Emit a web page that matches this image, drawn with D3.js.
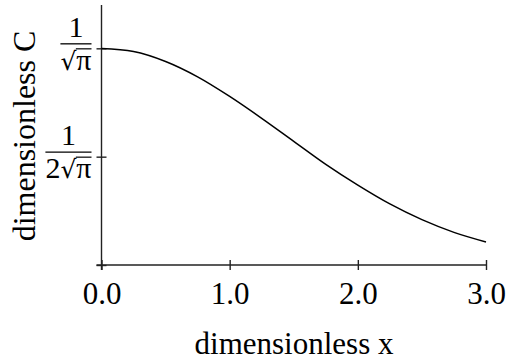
<!DOCTYPE html>
<html>
<head>
<meta charset="utf-8">
<script src="https://cdn.jsdelivr.net/npm/d3@7"></script>
<style>
  body { margin: 0; background: #fff; }
  svg { display: block; }
  text { font-family: "Liberation Serif", "Times New Roman", serif; fill: #000; }
</style>
</head>
<body>
<script>
// curve, C at x = 0, 0.25, ... 3
const xValues = [0, 0.25, 0.5, 0.75, 1, 1.25, 1.5, 1.75, 2, 2.25, 2.5, 2.75, 3];
const cValues = [0.564, 0.556, 0.530, 0.490, 0.439, 0.382, 0.322, 0.262, 0.208, 0.159, 0.118, 0.085, 0.060];

const xTicks = [0, 1, 2, 3];
const xTickLabels = ["0.0", "1.0", "2.0", "3.0"];
const rootPi = Math.sqrt(Math.PI);
const yTicks = [0, 1 / (2 * rootPi), 1 / rootPi];
const yTickNum = ["", "1", "1"];
const yTickPre = ["", "2", ""];   // text in front of the radical in the denominator
const yMax = 1.2 / rootPi;

const width = 509, height = 360;
const fontSize = 31;

let svg = d3.select("body")
    .append("svg")
        .attr("width", width)
        .attr("height", height);

let xScale = d3.scaleLinear()
    .domain([0, 3])
    .range([101.5, 486]);

let yScale = d3.scaleLinear()
    .domain([0, yMax])
    .range([265, 5]);

// y axis, ticks sticking out both sides
let yAxis = d3.axisLeft(yScale)
    .tickValues(yTicks)
    .tickSizeInner(5)
    .tickSizeOuter(0)
    .tickFormat("");

let gy = svg.append("g")
    .attr("class", "yAxis")
    .attr("transform", `translate(${xScale(0)}, 0)`)
    .call(yAxis);
gy.select(".domain").attr("d", `M0,${yScale(yMax)}V${yScale(0) + 5}`);
gy.selectAll(".tick line").attr("x1", 5);

let xAxis = d3.axisBottom(xScale)
    .tickValues(xTicks)
    .tickSizeInner(5)
    .tickSizeOuter(0)
    .tickFormat((d, i) => xTickLabels[i]);

let gx = svg.append("g")
    .attr("class", "xAxis")
    .attr("transform", `translate(0, ${yScale(0)})`)
    .call(xAxis);
gx.select(".domain").attr("d", `M${xScale(0) - 5},0H${xScale(3)}`);
gx.selectAll(".tick line").attr("y1", -5);
gx.selectAll(".tick text")
    .attr("y", 39)
    .attr("dy", 0)
    .style("font-size", fontSize + "px")
    .style("font-family", '"Liberation Serif", serif');

svg.selectAll(".domain, .tick line")
    .attr("stroke", "#222")
    .attr("stroke-width", 1.4);

// y tick labels as stacked fractions
gy.selectAll(".tick").each(function(d, i) {
    if (!yTickNum[i]) return;
    let g = d3.select(this).append("g")
        .attr("transform", "translate(-10, -5)");
    let den = g.append("text")
        .attr("text-anchor", "end")
        .attr("y", 26)
        .style("font-size", "30px");
    den.append("tspan").text(yTickPre[i]);
    den.append("tspan")
        .style("font-family", '"DejaVu Serif", serif')
        .style("font-size", "25px")
        .text("\u221A");
    den.append("tspan").text("\u03C0");
    let w = den.node().getComputedTextLength();
    let n = yTickPre[i].length;
    let piBox = den.node().getExtentOfChar(n + 1);
    g.append("line")
        .attr("x1", -w).attr("x2", 0)
        .attr("y1", 0).attr("y2", 0)
        .attr("stroke", "#000").attr("stroke-width", 1.3);
    // vinculum over pi
    g.append("line")
        .attr("x1", piBox.x - 0.5).attr("x2", piBox.x + piBox.width)
        .attr("y1", 5).attr("y2", 5)
        .attr("stroke", "#000").attr("stroke-width", 1.2);
    g.append("text")
        .attr("text-anchor", "middle")
        .attr("x", -w / 2)
        .attr("y", -7)
        .style("font-size", "30px")
        .text(yTickNum[i]);
});

// curve
let line = d3.line()
    .x((d, i) => xScale(xValues[i]))
    .y(d => yScale(d))
    .curve(d3.curveMonotoneX);

svg.append("path")
    .datum(cValues)
    .attr("fill", "none")
    .attr("stroke", "#000")
    .attr("stroke-width", 1.5)
    .attr("d", line);

// axis titles
svg.append("text")
    .attr("x", 294)
    .attr("y", 354)
    .attr("text-anchor", "middle")
    .style("font-size", fontSize + "px")
    .text("dimensionless x");

svg.append("text")
    .attr("transform", "translate(35, 136) rotate(-90)")
    .attr("text-anchor", "middle")
    .style("font-size", "32px")
    .text("dimensionless C");
</script>
</body>
</html>
